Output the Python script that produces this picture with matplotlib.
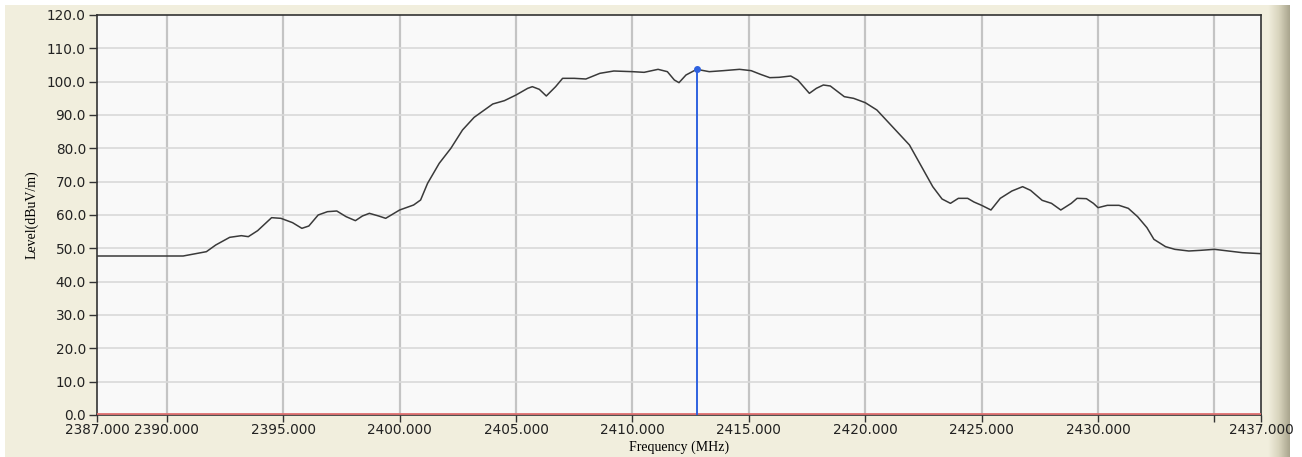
import numpy as np
import matplotlib.pyplot as plt
from matplotlib.patches import Rectangle
from matplotlib.colors import LinearSegmentedColormap

# Measured spectrum trace
freq_mhz = [2387.0, 2390.7, 2391.7, 2392.1, 2392.7, 2393.2, 2393.5, 2393.9, 2394.5, 2394.9,
            2395.4, 2395.8, 2396.1, 2396.5, 2396.9, 2397.3, 2397.7, 2398.1, 2398.4, 2398.7,
            2399.1, 2399.4, 2400.0, 2400.6, 2400.9, 2401.2, 2401.7, 2402.2, 2402.7, 2403.2,
            2404.0, 2404.5, 2405.0, 2405.5, 2405.7, 2406.0, 2406.3, 2406.7, 2407.0, 2407.5,
            2408.0, 2408.6, 2409.2, 2410.0, 2410.5, 2411.1, 2411.5, 2411.8, 2412.0, 2412.3,
            2412.76, 2413.3, 2413.9, 2414.6, 2415.1, 2415.5, 2415.9, 2416.3, 2416.8, 2417.1,
            2417.6, 2417.9, 2418.2, 2418.5, 2419.1, 2419.5, 2420.0, 2420.5, 2421.1, 2421.9,
            2422.5, 2422.9, 2423.3, 2423.66, 2424.0, 2424.4, 2424.67, 2425.0, 2425.4, 2425.8,
            2426.3, 2426.76, 2427.1, 2427.6, 2428.0, 2428.4, 2428.85, 2429.1, 2429.5, 2429.8,
            2430.0, 2430.4, 2430.9, 2431.3, 2431.7, 2432.1, 2432.4, 2432.9, 2433.3, 2433.9,
            2434.4, 2435.0, 2435.6, 2436.2, 2437.0]
level_dbuv = [47.7, 47.7, 49.0, 51.0, 53.3, 53.8, 53.5, 55.3, 59.2, 59.0,
              57.7, 56.0, 56.7, 60.0, 61.0, 61.2, 59.5, 58.3, 59.7, 60.5,
              59.7, 59.0, 61.5, 63.0, 64.5, 69.5, 75.5, 80.0, 85.5, 89.3,
              93.3, 94.3, 96.0, 98.0, 98.5, 97.7, 95.7, 98.5, 101.0, 101.0,
              100.8, 102.5, 103.2, 103.0, 102.8, 103.7, 103.0, 100.5, 99.7, 102.0,
              103.7, 103.0, 103.3, 103.7, 103.3, 102.2, 101.2, 101.3, 101.7, 100.5,
              96.5, 98.0, 99.0, 98.7, 95.5, 95.0, 93.7, 91.5, 87.0, 81.0,
              73.5, 68.5, 64.8, 63.5, 65.0, 65.0, 63.9, 62.9, 61.5, 65.0,
              67.2, 68.5, 67.4, 64.4, 63.5, 61.5, 63.5, 65.0, 64.9, 63.5,
              62.2, 62.9, 62.9, 62.0, 59.5, 56.2, 52.7, 50.5, 49.7, 49.2,
              49.4, 49.7, 49.2, 48.7, 48.4]

marker_freq = 2412.76
marker_level = 103.7

x_ticks = [2387, 2390, 2395, 2400, 2405, 2410, 2415, 2420, 2425, 2430, 2435, 2437]
x_labels = ['2387.000', '2390.000', '2395.000', '2400.000', '2405.000', '2410.000',
            '2415.000', '2420.000', '2425.000', '2430.000', '', '2437.000']
y_ticks = np.arange(0, 121, 10)

fig = plt.figure(figsize=(13.02, 4.57), dpi=100, facecolor='white')

# beige window panel behind the plot
fig.patches.append(Rectangle((5 / 1302, 0), 1285 / 1302, 452 / 457,
                             transform=fig.transFigure, facecolor='#f1eedd',
                             edgecolor='none', zorder=-10))
# scrollbar-like shaded strip on the right
bar = fig.add_axes([1268 / 1302, 0, 22 / 1302, 452 / 457])
grad = np.linspace(0, 1, 50).reshape(1, -1)
bar.imshow(grad, aspect='auto',
           cmap=LinearSegmentedColormap.from_list('bar', ['#f1eedd', '#d8d4bd', '#a9a58e']),
           extent=[0, 1, 0, 1])
bar.axis('off')

ax = fig.add_axes([97 / 1302, 42 / 457, 1164 / 1302, 400 / 457])
ax.set_facecolor('#f9f9f9')

for f in x_ticks[1:-1]:
    ax.axvline(f, color='#c4c4c4', lw=1.6, zorder=1)
for lv in y_ticks[1:-1]:
    ax.axhline(lv, color='#d9d9d9', lw=1.2, zorder=1)

ax.plot(freq_mhz, level_dbuv, color='#3a3a3a', lw=1.1, zorder=3)
# red limit line along the 0 dB floor, just inside the bottom frame
ax.axhline(0.35, color='#e07070', lw=1.3, zorder=3)

ax.plot([marker_freq, marker_freq], [0, marker_level], color='#2f62e0', lw=1.4, zorder=4)
ax.plot(marker_freq, marker_level, 'o', ms=4, color='#2f62e0', zorder=5)

ax.set_xlim(2387, 2437)
ax.set_ylim(0, 120)
ax.set_xticks(x_ticks)
ax.set_xticklabels(x_labels, fontsize=9.8, family='DejaVu Sans', color='#222222')
ax.set_yticks(y_ticks)
ax.set_yticklabels([f'{v:.1f}' for v in y_ticks], fontsize=9.8, family='DejaVu Sans', color='#222222')
ax.tick_params(axis='x', direction='out', length=5, width=1, color='#333333', pad=1)
ax.tick_params(axis='y', direction='out', length=6, width=1, color='#333333', pad=2)

for side in ['left', 'right', 'top', 'bottom']:
    ax.spines[side].set_color('#333333')
    ax.spines[side].set_linewidth(1.2)

ax.set_xlabel('Frequency (MHz)', fontsize=10, family='Liberation Serif', labelpad=2)
ax.set_ylabel('Level(dBuV/m)', fontsize=10, family='Liberation Serif', labelpad=6)

fig.savefig('out.png', dpi=100, facecolor=fig.get_facecolor())
